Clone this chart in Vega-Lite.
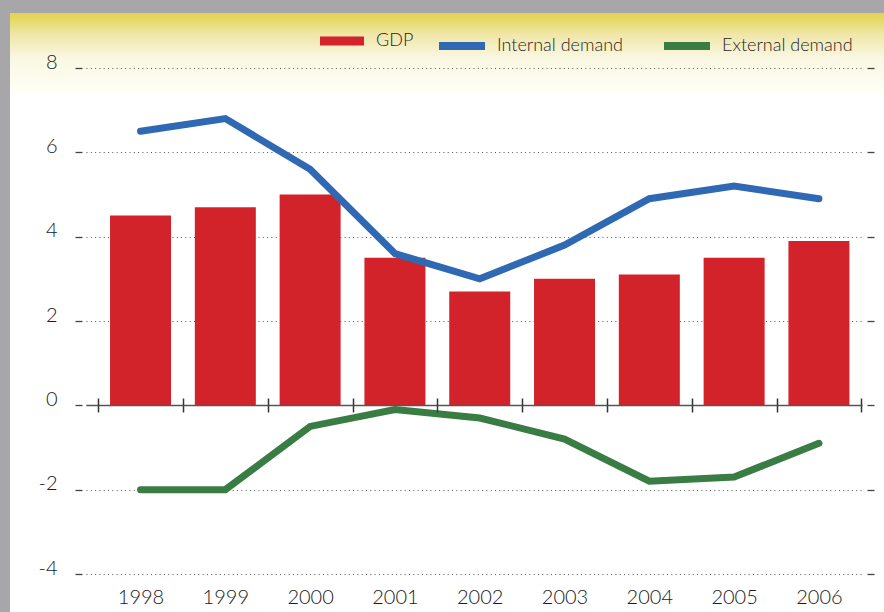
{
  "$schema": "https://vega.github.io/schema/vega-lite/v6.json",
  "width": 874,
  "height": 599,
  "autosize": {"type": "none"},
  "padding": {"left": 10, "top": 13, "right": 0, "bottom": 0},
  "background": "#A7A7A9",
  "view": {
    "stroke": null,
    "fill": {
      "gradient": "linear", "x1": 0, "y1": 0, "x2": 0, "y2": 1,
      "stops": [
        {"offset": 0, "color": "#E2D24A"},
        {"offset": 0.035, "color": "#EFE6A6"},
        {"offset": 0.075, "color": "#FAF7E2"},
        {"offset": 0.133, "color": "#FFFFF6"},
        {"offset": 0.135, "color": "#FFFFFF"},
        {"offset": 1, "color": "#FFFFFF"}
      ]
    }
  },
  "config": {
    "font": "Lato",
    "axis": {"labelFont": "Lato", "labelColor": "#1A1A1A", "labelFontSize": 20, "labelFontWeight": 300, "title": null},
    "legend": {"labelFont": "Lato", "labelColor": "#1F1F1F", "labelFontSize": 18, "labelFontWeight": 300, "padding": 0}
  },
  "data": {
    "values": [
      {"year": 1998, "series": "GDP", "value": 4.5},
      {"year": 1999, "series": "GDP", "value": 4.7},
      {"year": 2000, "series": "GDP", "value": 5.0},
      {"year": 2001, "series": "GDP", "value": 3.5},
      {"year": 2002, "series": "GDP", "value": 2.7},
      {"year": 2003, "series": "GDP", "value": 3.0},
      {"year": 2004, "series": "GDP", "value": 3.1},
      {"year": 2005, "series": "GDP", "value": 3.5},
      {"year": 2006, "series": "GDP", "value": 3.9},
      {"year": 1998, "series": "Internal demand", "value": 6.5},
      {"year": 1999, "series": "Internal demand", "value": 6.8},
      {"year": 2000, "series": "Internal demand", "value": 5.6},
      {"year": 2001, "series": "Internal demand", "value": 3.6},
      {"year": 2002, "series": "Internal demand", "value": 3.0},
      {"year": 2003, "series": "Internal demand", "value": 3.8},
      {"year": 2004, "series": "Internal demand", "value": 4.9},
      {"year": 2005, "series": "Internal demand", "value": 5.2},
      {"year": 2006, "series": "Internal demand", "value": 4.9},
      {"year": 1998, "series": "External demand", "value": -2.0},
      {"year": 1999, "series": "External demand", "value": -2.0},
      {"year": 2000, "series": "External demand", "value": -0.5},
      {"year": 2001, "series": "External demand", "value": -0.1},
      {"year": 2002, "series": "External demand", "value": -0.3},
      {"year": 2003, "series": "External demand", "value": -0.8},
      {"year": 2004, "series": "External demand", "value": -1.8},
      {"year": 2005, "series": "External demand", "value": -1.7},
      {"year": 2006, "series": "External demand", "value": -0.9}
    ]
  },
  "layer": [
    {
      "transform": [{"filter": "datum.series === 'GDP'"}],
      "mark": {"type": "bar", "width": 61},
      "encoding": {
        "x": {
          "field": "year", "type": "quantitative",
          "scale": {"domain": [1997.357, 2006.508], "range": [76, 852], "nice": false, "zero": false, "padding": 0},
          "axis": {
            "orient": "bottom",
            "values": [1997.5, 1998.5, 1999.5, 2000.5, 2001.5, 2002.5, 2003.5, 2004.5, 2005.5, 2006.5],
            "labels": false, "grid": false, "offset": -207, "tickSize": 7, "tickWidth": 1.5, "tickColor": "#333333",
            "domain": true, "domainColor": "#555555", "domainWidth": 1.5, "zindex": 2
          }
        },
        "y": {
          "field": "value", "type": "quantitative",
          "scale": {"domain": [-4, 8], "range": [561, 55], "nice": false, "zero": false},
          "axis": {
            "orient": "left", "values": [-4, -2, 0, 2, 4, 6, 8], "offset": -72, "domain": false,
            "tickSize": 7, "tickWidth": 1.3, "tickColor": "#444444", "labelPadding": 18,
            "labelBaseline": "alphabetic", "labelExpr": "'' + datum.value",
            "grid": true, "gridDash": [1, 3.3], "gridColor": "#555555", "gridWidth": 1
          }
        },
        "fill": {
          "field": "series", "type": "nominal",
          "scale": {"domain": ["GDP"], "range": ["#D2232A"]},
          "legend": {
            "orient": "none", "legendX": 310, "legendY": 6, "direction": "horizontal", "title": null,
            "symbolType": "M-1,-0.2H1V0.2H-1Z", "symbolSize": 1936, "symbolStrokeWidth": 0, "labelOffset": 12
          }
        }
      }
    },
    {
      "transform": [{"filter": "datum.series === 'Internal demand'"}],
      "mark": {"type": "line", "strokeWidth": 7, "strokeCap": "round"},
      "encoding": {
        "x": {
          "field": "year", "type": "quantitative",
          "scale": {"domain": [1997.357, 2006.508], "range": [76, 852], "nice": false, "zero": false, "padding": 0},
          "axis": {
            "orient": "bottom",
            "values": [1997.5, 1998.5, 1999.5, 2000.5, 2001.5, 2002.5, 2003.5, 2004.5, 2005.5, 2006.5],
            "labels": false, "grid": false, "offset": -207, "tickSize": -7, "tickWidth": 1.5, "tickColor": "#333333",
            "domain": false, "zindex": 2
          }
        },
        "y": {
          "field": "value", "type": "quantitative",
          "scale": {"domain": [-4, 8], "range": [561, 55], "nice": false, "zero": false},
          "axis": {
            "orient": "right", "values": [-4, -2, 0, 2, 4, 6, 8], "offset": -17, "domain": false,
            "labels": false, "grid": false, "tickSize": 7, "tickWidth": 1.3, "tickColor": "#444444"
          }
        },
        "stroke": {
          "field": "series", "type": "nominal",
          "scale": {"domain": ["Internal demand", "External demand"], "range": ["#2F69B3", "#3A7D44"]},
          "legend": {
            "orient": "none", "legendX": 425, "legendY": 6, "direction": "horizontal", "title": null,
            "symbolType": "stroke", "symbolSize": 2116, "symbolStrokeWidth": 8, "labelOffset": 8, "columnPadding": 24
          }
        }
      }
    },
    {
      "transform": [{"filter": "datum.series === 'External demand'"}],
      "mark": {"type": "line", "strokeWidth": 7, "strokeCap": "round"},
      "encoding": {
        "x": {
          "field": "year", "type": "quantitative",
          "scale": {"domain": [1997.357, 2006.508], "range": [76, 852], "nice": false, "zero": false, "padding": 0},
          "axis": {
            "orient": "bottom",
            "values": [1998, 1999, 2000, 2001, 2002, 2003, 2004, 2005, 2006], "format": "d",
            "labels": true, "grid": false, "offset": -38, "ticks": false, "domain": false, "labelPadding": 13
          }
        },
        "y": {
          "field": "value", "type": "quantitative",
          "scale": {"domain": [-4, 8], "range": [561, 55], "nice": false, "zero": false},
          "axis": null
        },
        "stroke": {
          "field": "series", "type": "nominal",
          "scale": {"domain": ["Internal demand", "External demand"], "range": ["#2F69B3", "#3A7D44"]},
          "legend": {
            "orient": "none", "legendX": 425, "legendY": 6, "direction": "horizontal", "title": null,
            "symbolType": "stroke", "symbolSize": 2116, "symbolStrokeWidth": 8, "labelOffset": 8, "columnPadding": 24
          }
        }
      }
    }
  ],
  "resolve": {"axis": {"x": "independent", "y": "independent"}}
}
